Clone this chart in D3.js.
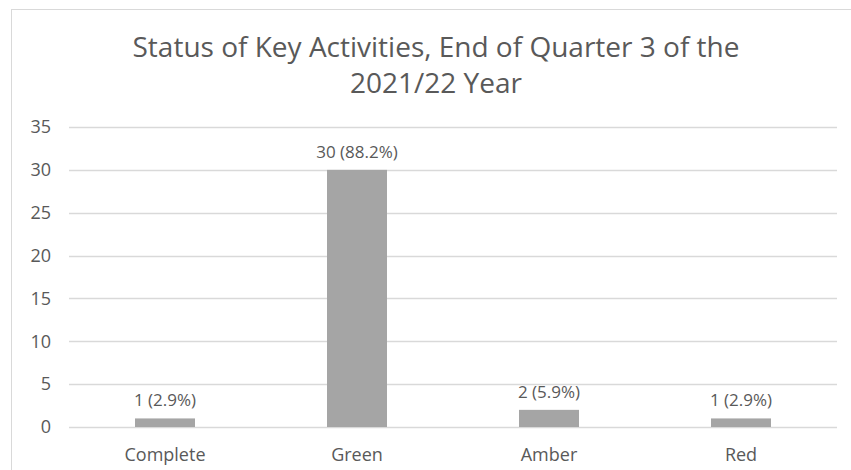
<!DOCTYPE html>
<html>
<head>
<meta charset="utf-8">
<script src="https://cdn.jsdelivr.net/npm/d3@7"></script>
<style>
  body { margin: 0; background: #fff; }
  text { font-family: "Open Sans", sans-serif; fill: #595959; }
</style>
</head>
<body>
<svg width="851" height="470"></svg>
<script>
// data
var categories = ["Complete", "Green", "Amber", "Red"];
var counts = [1, 30, 2, 1];
var labels = ["1 (2.9%)", "30 (88.2%)", "2 (5.9%)", "1 (2.9%)"];
var yTicks = [0, 5, 10, 15, 20, 25, 30, 35];
var titleLines = ["Status of Key Activities, End of Quarter 3 of the", "2021/22 Year"];

var margin = {top: 127, right: 14, bottom: 43, left: 69};
var width = 851 - margin.left - margin.right;
var height = 470 - margin.top - margin.bottom;

var svg = d3.select("svg");

// chart frame
svg.append("rect")
  .attr("x", 11.5).attr("y", 9.5)
  .attr("width", 860).attr("height", 480)
  .attr("fill", "#fff")
  .attr("stroke", "#d9d9d9");

svg.append("text")
  .attr("text-anchor", "middle")
  .style("font-size", "28px")
  .selectAll("tspan")
  .data(titleLines)
  .enter()
  .append("tspan")
  .attr("x", 436)
  .attr("y", (d, i) => 56.5 + i * 36)
  .text(d => d);

var g = svg.append("g")
  .attr("transform", "translate(" + margin.left + "," + margin.top + ")");

var xScale = d3.scaleBand().domain(categories).range([0, width]).paddingInner(0.6875).paddingOuter(0.34375);
var yScale = d3.scaleLinear().domain([0, 35]).range([height, 0]);

// gridlines
g.selectAll(".grid")
  .data(yTicks)
  .enter()
  .append("line")
  .attr("x1", 0).attr("x2", width)
  .attr("y1", d => Math.round(yScale(d)) + 0.5)
  .attr("y2", d => Math.round(yScale(d)) + 0.5)
  .attr("stroke", "#d9d9d9")
  .attr("stroke-width", 1.5);

var yAxis = d3.axisLeft(yScale).tickValues(yTicks).tickSize(0).tickPadding(18);
var yAxisGroup = g.append("g").call(yAxis);
yAxisGroup.select(".domain").remove();
yAxisGroup.selectAll("text").style("font-size", "18px").attr("fill", "#595959");

var xAxis = d3.axisBottom(xScale).tickSize(0).tickPadding(21);
var xAxisGroup = g.append("g").attr("transform", "translate(0," + height + ")").call(xAxis);
xAxisGroup.select(".domain").remove();
xAxisGroup.selectAll("text").style("font-size", "18px").attr("fill", "#595959");

// bars
g.selectAll(".bar")
  .data(categories)
  .enter()
  .append("rect")
  .attr("x", d => xScale(d))
  .attr("y", (d, i) => yScale(counts[i]))
  .attr("width", xScale.bandwidth())
  .attr("height", (d, i) => height - yScale(counts[i]))
  .attr("fill", "#a5a5a5");

g.selectAll(".lbl")
  .data(categories)
  .enter()
  .append("text")
  .attr("x", d => xScale(d) + xScale.bandwidth() / 2)
  .attr("y", (d, i) => yScale(counts[i]) - 12)
  .attr("text-anchor", "middle")
  .style("font-size", "17px")
  .text((d, i) => labels[i]);
</script>
</body>
</html>
